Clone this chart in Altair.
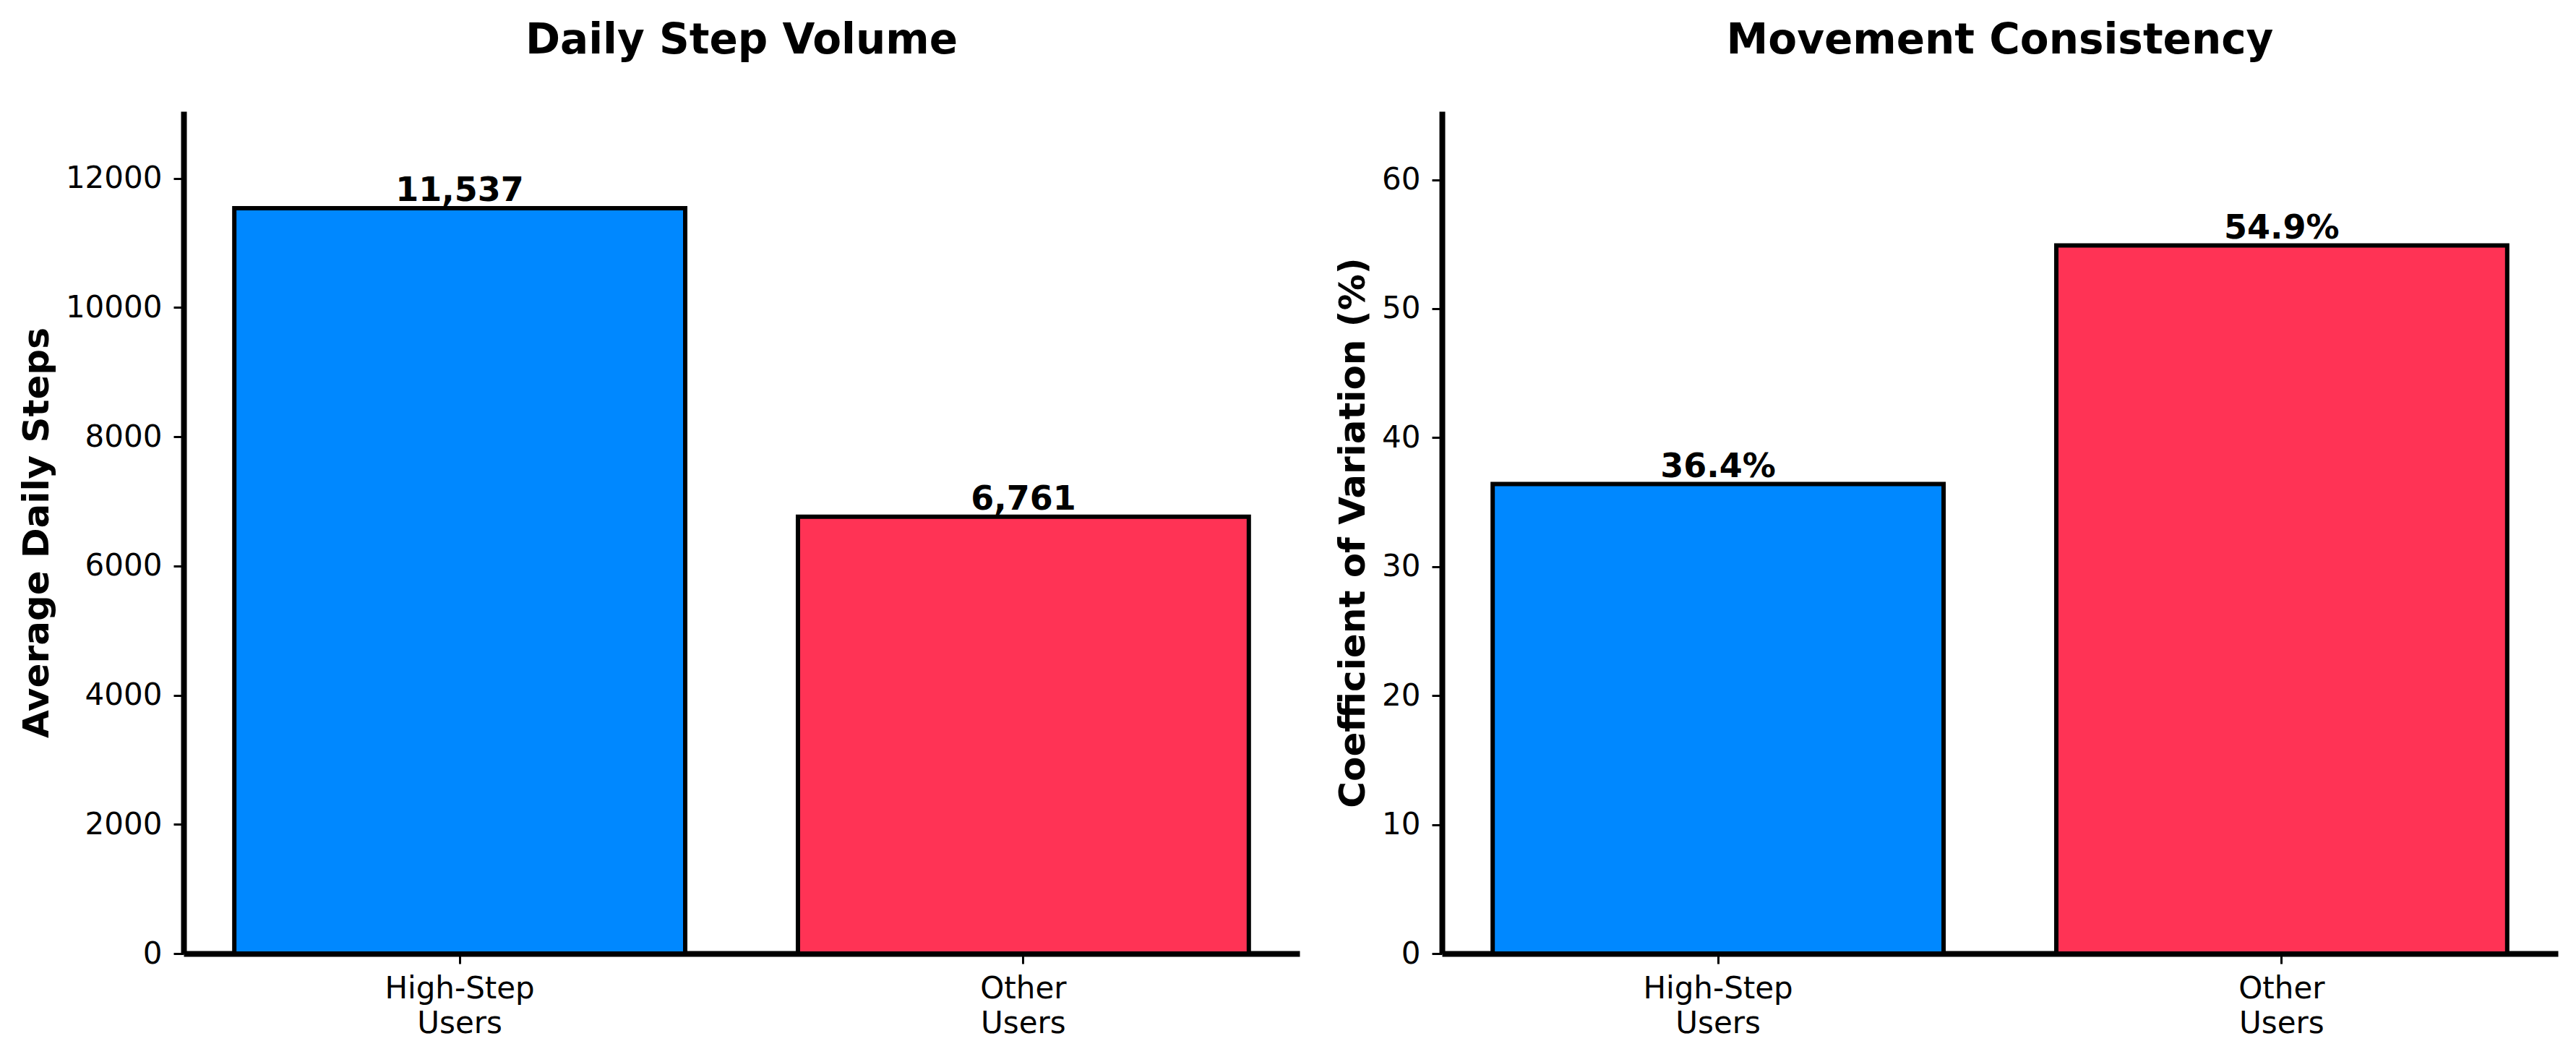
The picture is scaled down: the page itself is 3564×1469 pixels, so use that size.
import altair as alt
import pandas as pd

# values
groups = ["High-Step Users", "Other Users"]
avg_steps = [11537, 6761]
cv_pct = [36.4, 54.9]
bar_colors = ["#0088FF", "#FF3355"]

steps_ticks = [0, 2000, 4000, 6000, 8000, 10000, 12000]
cv_ticks = [0, 10, 20, 30, 40, 50, 60]

df = pd.DataFrame({
    "group": groups,
    "steps": avg_steps,
    "cv": cv_pct,
    "color": bar_colors,
})

FONT = "DejaVu Sans"


def panel(field, title, ytitle, ymax, ticks, label_expr):
    base = alt.Chart(df).transform_calculate(label=label_expr)

    x = alt.X(
        "group:N",
        sort=groups,
        title=None,
        scale=alt.Scale(paddingInner=0.2, paddingOuter=0.09),
        axis=alt.Axis(labelExpr="split(datum.label, ' ')", labelAngle=0,
                      labelLineHeight=48, labelPadding=14, labelLimit=0),
    )
    y = alt.Y(
        f"{field}:Q",
        title=ytitle,
        scale=alt.Scale(domain=[0, ymax], nice=False, zero=True),
        axis=alt.Axis(values=ticks, format="d", labelPadding=16, titlePadding=14),
    )

    bars = base.mark_bar(stroke="black", strokeWidth=6).encode(
        x=x, y=y, color=alt.Color("color:N", scale=None)
    )
    text = base.mark_text(
        font=FONT, fontSize=46, fontWeight="bold", color="black",
        baseline="alphabetic", align="center", dy=-10,
    ).encode(x=x, y=y, text="label:N")

    return (bars + text).properties(
        width=1544,
        height=1165,
        title=alt.TitleParams(title, font=FONT, fontSize=58, fontWeight="bold",
                              color="black", anchor="middle", frame="group",
                              baseline="alphabetic", offset=22),
    )


left = panel("steps", "Daily Step Volume", "Average Daily Steps", 13037,
             steps_ticks, "format(datum.steps, ',')")
right = panel("cv", "Movement Consistency", "Coefficient of Variation (%)", 65.3,
              cv_ticks, "format(datum.cv, '.1f') + '%'")

chart = alt.hconcat(left, right, spacing=49).properties(
    padding={"left": 18, "top": 20, "right": 5, "bottom": 5}
).configure_view(stroke=None).configure_axis(
    grid=False,
    domainColor="black",
    domainWidth=8,
    tickColor="black",
    tickWidth=3,
    tickSize=14,
    labelFont=FONT,
    labelFontSize=42,
    labelColor="black",
    titleFont=FONT,
    titleFontSize=50,
    titleFontWeight="bold",
    titleColor="black",
    zindex=1,
)

chart.save("out.html", embed_options={"renderer": "svg", "actions": False})
